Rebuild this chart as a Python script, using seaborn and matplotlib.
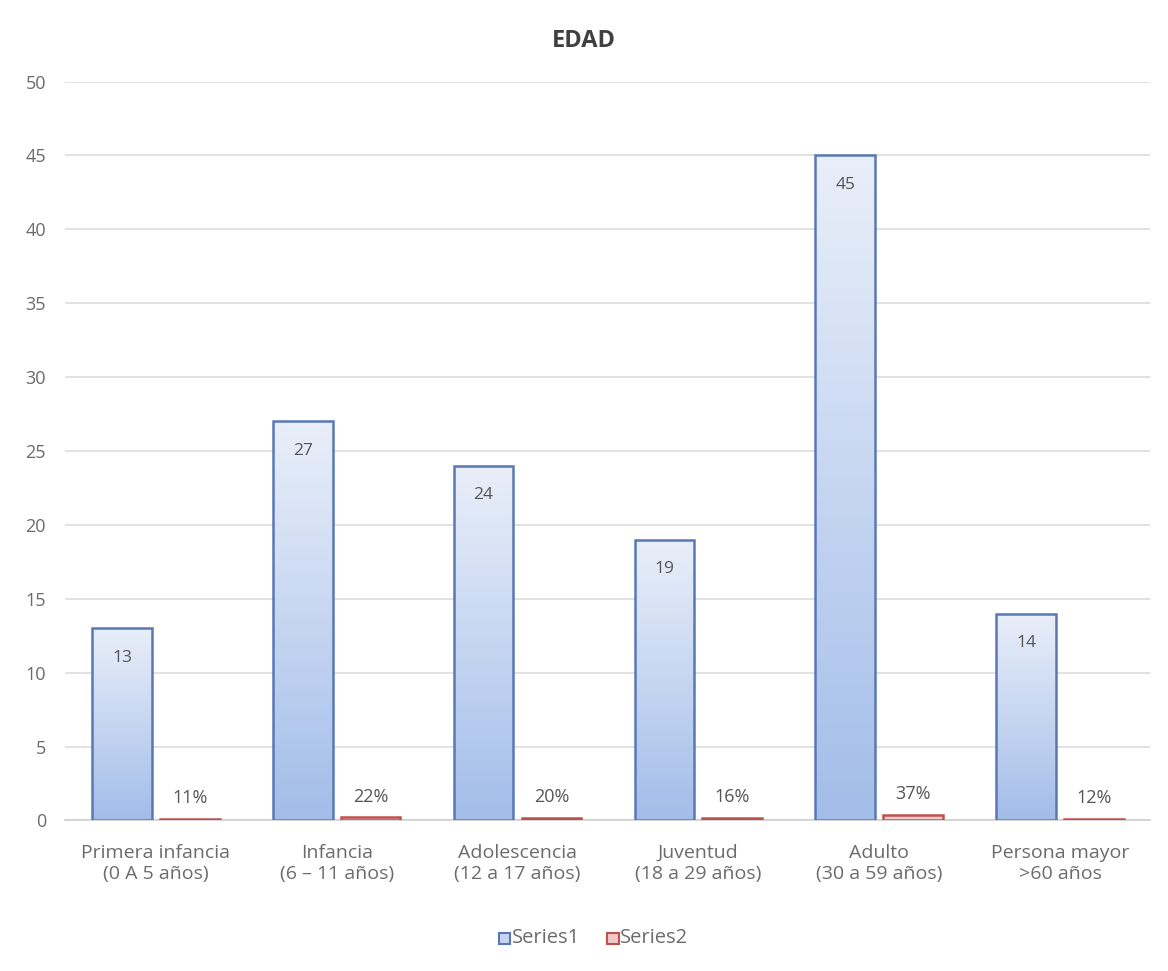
import numpy as np
import pandas as pd
import seaborn as sns
import matplotlib.pyplot as plt
from matplotlib.colors import LinearSegmentedColormap

categories = ["Primera infancia\n(0 A 5 años)", "Infancia\n(6 – 11 años)",
              "Adolescencia\n(12 a 17 años)", "Juventud\n(18 a 29 años)",
              "Adulto\n(30 a 59 años)", "Persona mayor\n>60 años"]
series1 = [13, 27, 24, 19, 45, 14]
series2 = [0.11, 0.22, 0.20, 0.16, 0.37, 0.12]
yticks = list(range(0, 55, 5))

df = pd.DataFrame({
    "cat": categories * 2,
    "val": series1 + series2,
    "serie": ["Series1"] * len(categories) + ["Series2"] * len(categories),
})

sns.set_theme(style="white")
plt.rcParams['font.family'] = ['Open Sans', 'DejaVu Sans']

gray = "#6b6b6b"
fig = plt.figure(figsize=(11.68, 9.71), dpi=100)
ax = fig.add_axes([0.056, 0.155, 0.929, 0.761])

sns.barplot(data=df, x="cat", y="val", hue="serie", order=categories,
            palette={"Series1": "#c6d6f2", "Series2": "#f2c9c8"},
            width=0.75, gap=0.12, ax=ax, legend=False)

blue_cmap = LinearSegmentedColormap.from_list("b", ["#a3bde9", "#e9eff9"])
grad = np.linspace(0, 1, 256).reshape(-1, 1)
cont1, cont2 = ax.containers[0], ax.containers[1]
for p in cont1.patches:
    x0, y0 = p.get_x(), p.get_y()
    im = ax.imshow(grad, cmap=blue_cmap, origin="lower", aspect="auto",
                   extent=[x0, x0 + p.get_width(), y0, y0 + p.get_height()],
                   zorder=2)
    im.set_clip_path(p)
    p.set_facecolor("none")
    p.set_edgecolor("#5a78b4")
    p.set_linewidth(1.8)
    p.set_zorder(3)
for p in cont2.patches:
    p.set_edgecolor("#c0504d")
    p.set_linewidth(1.8)
    p.set_zorder(3)

for p, v in zip(cont1.patches, series1):
    ax.text(p.get_x() + p.get_width() / 2, v - 2.0, f"{v}", ha="center",
            va="center", fontsize=12.5, color="#555555", zorder=5)
for p, v in zip(cont2.patches, series2):
    ax.text(p.get_x() + p.get_width() / 2, v + 1.4, f"{round(v * 100)}%",
            ha="center", va="center", fontsize=13, color="#555555", zorder=5)

ax.set_xlim(-0.5, len(categories) - 0.5)
ax.set_ylim(0, 50)
ax.set_yticks(yticks)
ax.yaxis.grid(True, color="#dcdcdc", linewidth=1.2)
ax.set_axisbelow(True)
for s in ["top", "right", "left"]:
    ax.spines[s].set_visible(False)
ax.spines["bottom"].set_color("#d0d0d0")
ax.tick_params(axis="both", length=0, labelcolor=gray)
ax.tick_params(axis="x", pad=17, labelsize=14)
ax.tick_params(axis="y", pad=14, labelsize=13)
ax.set_xlabel("")
ax.set_ylabel("")

fig.text(0.5, 0.958, "EDAD", ha="center", va="center", fontsize=17,
         fontweight="bold", color="#404040")

# legend
ly = 0.034
fig.patches.append(plt.Rectangle((0.427, ly - 0.0065), 0.010, 0.012,
                                 transform=fig.transFigure,
                                 facecolor="#c6d6f2", edgecolor="#5a78b4", lw=1.5))
fig.text(0.438, ly, "Series1", ha="left", va="center", fontsize=14.5, color=gray)
fig.patches.append(plt.Rectangle((0.520, ly - 0.0065), 0.010, 0.012,
                                 transform=fig.transFigure,
                                 facecolor="#f2c9c8", edgecolor="#c0504d", lw=1.5))
fig.text(0.531, ly, "Series2", ha="left", va="center", fontsize=14.5, color=gray)

fig.savefig("out.png", dpi=100)
